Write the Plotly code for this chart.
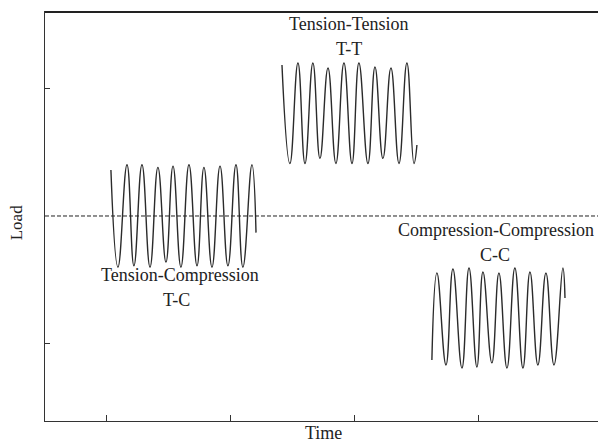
import plotly.graph_objects as go

# Tension-Compression (T-C) cycle
tc_time = [1.032, 1.089, 1.162, 1.218, 1.283, 1.348, 1.412, 1.477, 1.534, 1.598,
           1.663, 1.728, 1.784, 1.849, 1.914, 1.978, 2.043, 2.099, 2.172, 2.205]
tc_load = [0.36, -0.40, 0.40, -0.39, 0.40, -0.40, 0.38, -0.36, 0.39, -0.40,
           0.40, -0.39, 0.38, -0.40, 0.39, -0.39, 0.40, -0.40, 0.40, -0.13]

# Tension-Tension (T-T) cycle
tt_time = [2.415, 2.479, 2.544, 2.601, 2.665, 2.722, 2.787, 2.851, 2.916, 2.981,
           3.037, 3.110, 3.167, 3.231, 3.296, 3.361, 3.425, 3.482, 3.506]
tt_load = [1.18, 0.41, 1.195, 0.41, 1.195, 0.45, 1.156, 0.41, 1.195, 0.41,
           1.195, 0.41, 1.164, 0.45, 1.156, 0.41, 1.195, 0.41, 0.555]

# Compression-Compression (C-C) cycle
cc_time = [3.627, 3.668, 3.741, 3.797, 3.870, 3.927, 3.991, 4.040, 4.112, 4.169,
           4.234, 4.298, 4.363, 4.420, 4.484, 4.549, 4.614, 4.686, 4.703]
cc_load = [-1.125, -0.445, -1.164, -0.414, -1.188, -0.406, -1.180, -0.438, -1.148, -0.445,
           -1.188, -0.406, -1.188, -0.438, -1.164, -0.445, -1.164, -0.406, -0.641]

x_ticks = [1, 2, 3, 4]
y_ticks = [-1, 1]

labels = [
    ("Tension-Tension", 2.956, 1.50),
    ("T-T", 2.956, 1.305),
    ("Compression-Compression", 4.145, -0.109),
    ("C-C", 4.14, -0.305),
    ("Tension-Compression", 1.590, -0.461),
    ("T-C", 1.566, -0.656),
]

FONT = "Liberation Serif"
LINE = "#2b2b2b"

fig = go.Figure()
for t, l in [(tc_time, tc_load), (tt_time, tt_load), (cc_time, cc_load)]:
    fig.add_trace(go.Scatter(
        x=t, y=l, mode="lines",
        line=dict(color=LINE, width=1.4, shape="spline", smoothing=1.3),
        hoverinfo="skip", showlegend=False,
    ))

# zero-load reference line
fig.add_shape(type="line", xref="paper", x0=0, x1=1, yref="y", y0=0, y1=0,
              line=dict(color="#222", width=1, dash="4px,2px"))
# top frame line
fig.add_shape(type="line", xref="paper", x0=0, x1=1, yref="paper", y0=1, y1=1,
              line=dict(color="#222", width=2), layer="above")

for text, x, y in labels:
    fig.add_annotation(x=x, y=y, xref="x", yref="y", text=text, showarrow=False,
                       font=dict(family=FONT, size=18, color="#222"),
                       xanchor="center", yanchor="middle")

fig.add_annotation(xref="paper", yref="paper", x=-0.052, y=0.484, text="Load",
                   textangle=-90, showarrow=False,
                   font=dict(family=FONT, size=17, color="#222"),
                   xanchor="center", yanchor="middle")
fig.add_annotation(xref="paper", yref="paper", x=0.503, y=-0.030, text="Time",
                   showarrow=False,
                   font=dict(family=FONT, size=18, color="#222"),
                   xanchor="center", yanchor="middle")

fig.update_layout(
    width=598, height=443,
    margin=dict(l=45, r=0, t=12, b=22),
    paper_bgcolor="white", plot_bgcolor="white",
    font=dict(family=FONT, color="#222"),
    showlegend=False,
)
fig.update_xaxes(range=[0.499, 4.97], tickvals=x_ticks, ticks="inside", ticklen=6,
                 tickcolor="#333", tickwidth=1.2, showticklabels=False,
                 showline=True, linecolor="#333", linewidth=1.4, mirror=True,
                 showgrid=False, zeroline=False)
fig.update_yaxes(range=[-1.602, 1.594], tickvals=y_ticks, ticks="inside", ticklen=5,
                 tickcolor="#333", tickwidth=1.2, showticklabels=False,
                 showline=True, linecolor="#333", linewidth=1.4, mirror=False,
                 showgrid=False, zeroline=False)

fig.write_html("out.html", config={"displayModeBar": False},
               post_script="document.body.style.margin='0';document.body.style.overflow='hidden';")
